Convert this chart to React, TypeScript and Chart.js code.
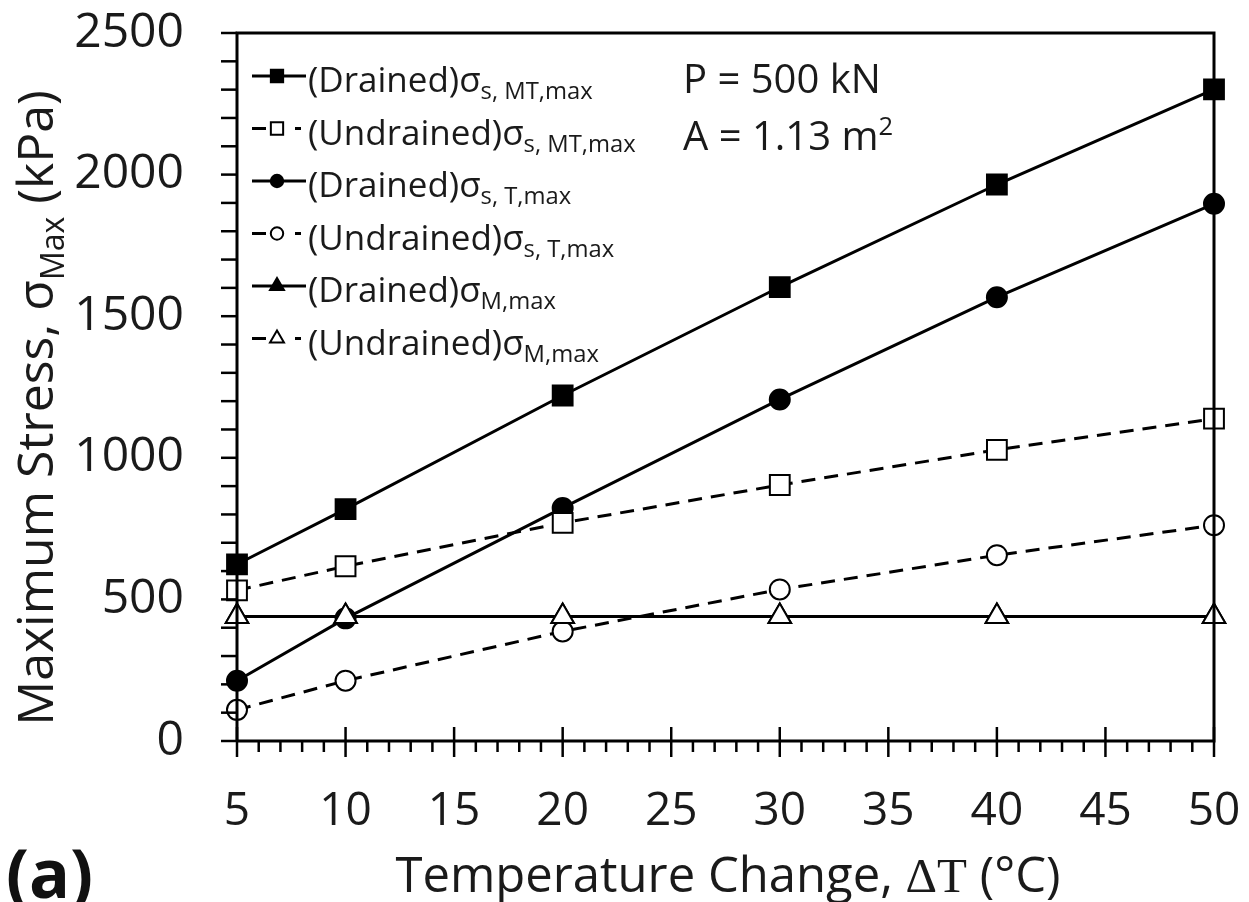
import React, { useEffect, useRef } from "react";
import { Chart, registerables } from "chart.js";

Chart.register(...registerables);

const xValues = [5, 10, 20, 30, 40, 50];
const drainedMT = [624, 819, 1220, 1603, 1965, 2301];
const undrainedMT = [532, 617, 770, 904, 1028, 1138];
const drainedT = [213, 433, 823, 1206, 1567, 1897];
const undrainedT = [110, 213, 387, 535, 656, 762];
const drainedM = [440, 440, 440, 440, 440, 440];
const undrainedM = [440, 440, 440, 440, 440, 440];

const legendMain = ["(Drained)σ", "(Undrained)σ", "(Drained)σ", "(Undrained)σ", "(Drained)σ", "(Undrained)σ"];
const legendSub = ["s, MT,max", "s, MT,max", "s, T,max", "s, T,max", "M,max", "M,max"];

const xTickMin = 5;
const xTickMax = 50;
const yTickMax = 2500;

const FONT = "'Open Sans', 'Noto Sans', sans-serif";
const TEXT = "#1a1a1a";

type Seg = { t: string; sub?: boolean; sup?: boolean; font?: string };

function drawSegs(ctx: CanvasRenderingContext2D, segs: Seg[], x: number, y: number, size: number, align: "left" | "center" = "left", subRatio = 0.64, subShift = 0.22) {
  const fsOf = (s: Seg) => (s.sub || s.sup ? size * subRatio : size);
  const widths = segs.map((s) => {
    ctx.font = `${fsOf(s)}px ${s.font || FONT}`;
    return ctx.measureText(s.t).width;
  });
  const total = widths.reduce((a, b) => a + b, 0);
  let cx = align === "center" ? x - total / 2 : x;
  ctx.textBaseline = "alphabetic";
  ctx.textAlign = "left";
  segs.forEach((s, i) => {
    ctx.font = `${fsOf(s)}px ${s.font || FONT}`;
    const dy = s.sub ? size * subShift : s.sup ? -size * 0.38 : 0;
    ctx.fillText(s.t, cx, y + dy);
    cx += widths[i];
  });
}

function drawMarker(ctx: CanvasRenderingContext2D, style: string, x: number, y: number, r: number, filled: boolean) {
  ctx.save();
  ctx.setLineDash([]);
  ctx.beginPath();
  if (style === "rect") {
    const s = r * Math.SQRT1_2;
    ctx.rect(x - s, y - s, 2 * s, 2 * s);
  } else if (style === "circle") {
    ctx.arc(x, y, r, 0, Math.PI * 2);
  } else {
    const h = r * 1.5;
    const w = r * Math.sqrt(3);
    ctx.moveTo(x, y - r);
    ctx.lineTo(x + w / 2, y - r + h);
    ctx.lineTo(x - w / 2, y - r + h);
    ctx.closePath();
  }
  ctx.fillStyle = filled ? "#000" : "#fff";
  ctx.fill();
  ctx.lineWidth = 2;
  ctx.strokeStyle = "#000";
  ctx.stroke();
  ctx.restore();
}

const decorPlugin = {
  id: "decor",
  afterDraw(chart: any) {
    const ctx: CanvasRenderingContext2D = chart.ctx;
    const { left, right, top, bottom } = chart.chartArea;
    const xs = chart.scales.x;
    const ys = chart.scales.y;
    ctx.save();
    ctx.strokeStyle = "#000";
    ctx.lineWidth = 3;
    ctx.setLineDash([]);
    // box
    ctx.beginPath();
    ctx.moveTo(left, bottom);
    ctx.lineTo(left, top);
    ctx.lineTo(right, top);
    ctx.lineTo(right, bottom);
    ctx.lineTo(left, bottom);
    ctx.stroke();
    // x ticks
    ctx.lineWidth = 2.5;
    for (let v = xTickMin; v <= xTickMax; v += 1) {
      const px = xs.getPixelForValue(v);
      const major = (v - xTickMin) % 5 === 0;
      ctx.beginPath();
      ctx.moveTo(px, major ? bottom - 14 : bottom);
      ctx.lineTo(px, major ? bottom + 16 : bottom + 11);
      ctx.stroke();
    }
    for (let v = 0; v <= yTickMax; v += 100) {
      const py = ys.getPixelForValue(v);
      ctx.beginPath();
      ctx.moveTo(left, py);
      ctx.lineTo(left - 16, py);
      ctx.stroke();
    }
    // tick labels
    ctx.fillStyle = TEXT;
    ctx.font = `46px ${FONT}`;
    ctx.textBaseline = "middle";
    ctx.textAlign = "center";
    xs.ticks.forEach((t: any) => {
      ctx.fillText(String(t.value), xs.getPixelForValue(t.value), 812);
    });
    ctx.font = `48px ${FONT}`;
    ctx.textAlign = "right";
    ys.ticks.forEach((t: any) => {
      ctx.fillText(String(t.value), 184, ys.getPixelForValue(t.value));
    });
    // axis titles
    drawSegs(ctx, [
      { t: "Temperature Change, " },
      { t: "ΔT", font: "'Liberation Serif', 'DejaVu Serif', serif" },
      { t: " (°C)" },
    ], 728, 892, 49, "center");
    ctx.save();
    ctx.translate(53, 408);
    ctx.rotate(-Math.PI / 2);
    drawSegs(ctx, [
      { t: "Maximum Stress, σ" },
      { t: "Max", sub: true },
      { t: " (kPa)" },
    ], 0, 0, 50, "center");
    ctx.restore();
    // (a)
    ctx.font = `bold 68px ${FONT}`;
    ctx.textAlign = "left";
    ctx.textBaseline = "alphabetic";
    ctx.fillStyle = "#111";
    ctx.fillText("(a)", 6, 898);
    // annotations
    ctx.fillStyle = TEXT;
    drawSegs(ctx, [{ t: "P = 500 kN" }], 683, 93, 40);
    drawSegs(ctx, [{ t: "A = 1.13 m" }, { t: "2", sup: true }], 683, 150, 40);
    // legend
    chart.data.datasets.forEach((ds: any, i: number) => {
      const base = 92 + i * 52.5;
      const cy = base - 16;
      const dashed = ds.borderDash && ds.borderDash.length > 0;
      ctx.save();
      ctx.strokeStyle = "#000";
      ctx.lineWidth = 3;
      ctx.beginPath();
      if (dashed) {
        ctx.moveTo(252, cy);
        ctx.lineTo(266, cy);
        ctx.moveTo(295, cy);
        ctx.lineTo(301, cy);
      } else {
        ctx.moveTo(252, cy);
        ctx.lineTo(306, cy);
      }
      ctx.stroke();
      ctx.restore();
      drawMarker(ctx, ds.pointStyle, 277, cy, ds.pointRadius * 0.62, ds.pointBackgroundColor === "#000");
      ctx.fillStyle = TEXT;
      drawSegs(ctx, [{ t: legendMain[i] }, { t: legendSub[i], sub: true }], 308, base, 35, "left", 0.68, 0.2);
    });
    ctx.restore();
  },
};

export default function App() {
  const ref = useRef<HTMLCanvasElement>(null);
  useEffect(() => {
    document.body.style.margin = "0";
    const mk = (vals: number[]) => vals.map((v, i) => ({ x: xValues[i], y: v }));
    const base = { borderColor: "#000", borderWidth: 3, pointBorderColor: "#000", pointBorderWidth: 2, clip: false as any, showLine: true };
    const chart = new Chart(ref.current!, {
      type: "scatter",
      data: {
        datasets: [
          { ...base, label: "Drained MT", data: mk(drainedMT), pointStyle: "rect", pointRadius: 14, pointBackgroundColor: "#000", order: 2 },
          { ...base, label: "Undrained MT", data: mk(undrainedMT), pointStyle: "rect", pointRadius: 14, pointBackgroundColor: "#fff", borderDash: [14, 9], order: 2 },
          { ...base, label: "Drained T", data: mk(drainedT), pointStyle: "circle", pointRadius: 10, pointBackgroundColor: "#000", order: 2 },
          { ...base, label: "Undrained T", data: mk(undrainedT), pointStyle: "circle", pointRadius: 10, pointBackgroundColor: "#fff", borderDash: [14, 9], order: 2 },
          { ...base, label: "Drained M", data: mk(drainedM), pointStyle: "triangle", pointRadius: 13, pointBackgroundColor: "#000", order: 3 },
          { ...base, label: "Undrained M", data: mk(undrainedM), pointStyle: "triangle", pointRadius: 13, pointBackgroundColor: "#fff", borderDash: [14, 9], order: 1 },
        ] as any,
      },
      options: {
        animation: false,
        responsive: false,
        maintainAspectRatio: false,
        layout: { padding: { left: 237, right: 35, top: 33, bottom: 161 } },
        plugins: { legend: { display: false }, tooltip: { enabled: false } },
        scales: {
          x: {
            type: "linear",
            min: xTickMin,
            max: xTickMax,
            ticks: { display: false, stepSize: 5 },
            grid: { display: false },
            border: { display: false },
            afterFit: (s: any) => { s.height = 0; },
          },
          y: {
            min: 0,
            max: yTickMax,
            ticks: { display: false, stepSize: 500 },
            grid: { display: false },
            border: { display: false },
            afterFit: (s: any) => { s.width = 0; },
          },
        },
      },
      plugins: [decorPlugin],
    });
    return () => chart.destroy();
  }, []);
  return (
    <div style={{ position: "absolute", left: 0, top: 0, width: 1249, height: 902, background: "#fff" }}>
      <canvas ref={ref} width={1249} height={902} style={{ width: 1249, height: 902 }} />
    </div>
  );
}
